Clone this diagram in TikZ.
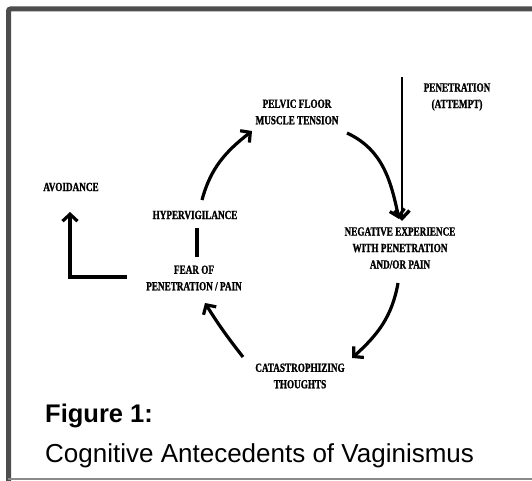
\documentclass[tikz,border=0pt]{standalone}
\usepackage{fontspec}
\setmainfont{Liberation Sans}
\newfontfamily\dfont{Liberation Serif}[FakeStretch=0.74,FakeBold=1.2]
\usetikzlibrary{arrows.meta}
\definecolor{framegray}{HTML}{4D4D4D}
\definecolor{thingray}{HTML}{8A8A8A}
\begin{document}
\begin{tikzpicture}[x=1pt,y=-1pt,
  lbl/.style={font=\dfont\bfseries\fontsize{12.4}{16.5}\selectfont, align=center, inner sep=0pt},
  arr/.style={line width=3.2pt, -{Straight Barb[length=7pt,width=15pt]}},
  plain/.style={line width=3.2pt}]
\useasboundingbox (0,0) rectangle (532,481);
% frame
\draw[framegray, line width=5pt, rounded corners=2pt] (8.5,481) -- (8.5,9) -- (532,9);
\draw[thingray, line width=1.8pt] (8,479) -- (532,479);
% labels
\node[lbl] (pelvic) at (297,112) {PELVIC FLOOR\\MUSCLE TENSION};
\node[lbl] (pen) at (457,97) {PENETRATION\\(ATTEMPT)};
\node[lbl] (neg) at (400,248) {NEGATIVE EXPERIENCE\\WITH PENETRATION\\AND/OR PAIN};
\node[lbl] (cat) at (300,376) {CATASTROPHIZING\\THOUGHTS};
\node[lbl] (fear) at (194,278) {FEAR OF\\PENETRATION / PAIN};
\node[lbl] (hyper) at (195,215) {HYPERVIGILANCE};
\node[lbl] (avoid) at (71,187) {AVOIDANCE};
% caption
\node[anchor=base west, inner sep=0pt, font=\bfseries\fontsize{25.5}{30}\selectfont] (fig) at (45,422) {Figure 1:};
\node[anchor=base west, inner sep=0pt, font=\fontsize{26}{30}\selectfont] (capt) at (45,462) {Cognitive Antecedents of Vaginismus};
% connector end points
\coordinate (p1) at (347,133);
\coordinate (n1) at (399,219);
\coordinate (n2) at (398,283);
\coordinate (c1) at (352,358);
\coordinate (c2) at (243,357);
\coordinate (f1) at (205,303);
\coordinate (h1) at (202,200);
\coordinate (p2) at (252,131);
\coordinate (pentop) at (402,77);
\coordinate (pentip) at (402,221);
\coordinate (lstart) at (127,277);
\coordinate (lcorner) at (70,277);
\coordinate (avtip) at (70,212);
% cycle arrows
\draw[arr] (p1) to[out=-25,in=102] (n1);
\draw[arr] (n2) to[out=-100,in=42] (c1);
\draw[arr] (c2) to[out=128,in=-58] (f1);
\draw[arr] (h1) to[out=75,in=218] (p2);
\draw[plain] (197,228) -- (197,257);
% penetration arrow
\draw[line width=2.4pt, -{Straight Barb[length=8pt,width=15pt,line width=3.4pt]}] (pentop) -- (pentip);
% avoidance L arrow
\draw[arr] (lstart) -- (lcorner) -- (avtip);
\end{tikzpicture}
\end{document}
